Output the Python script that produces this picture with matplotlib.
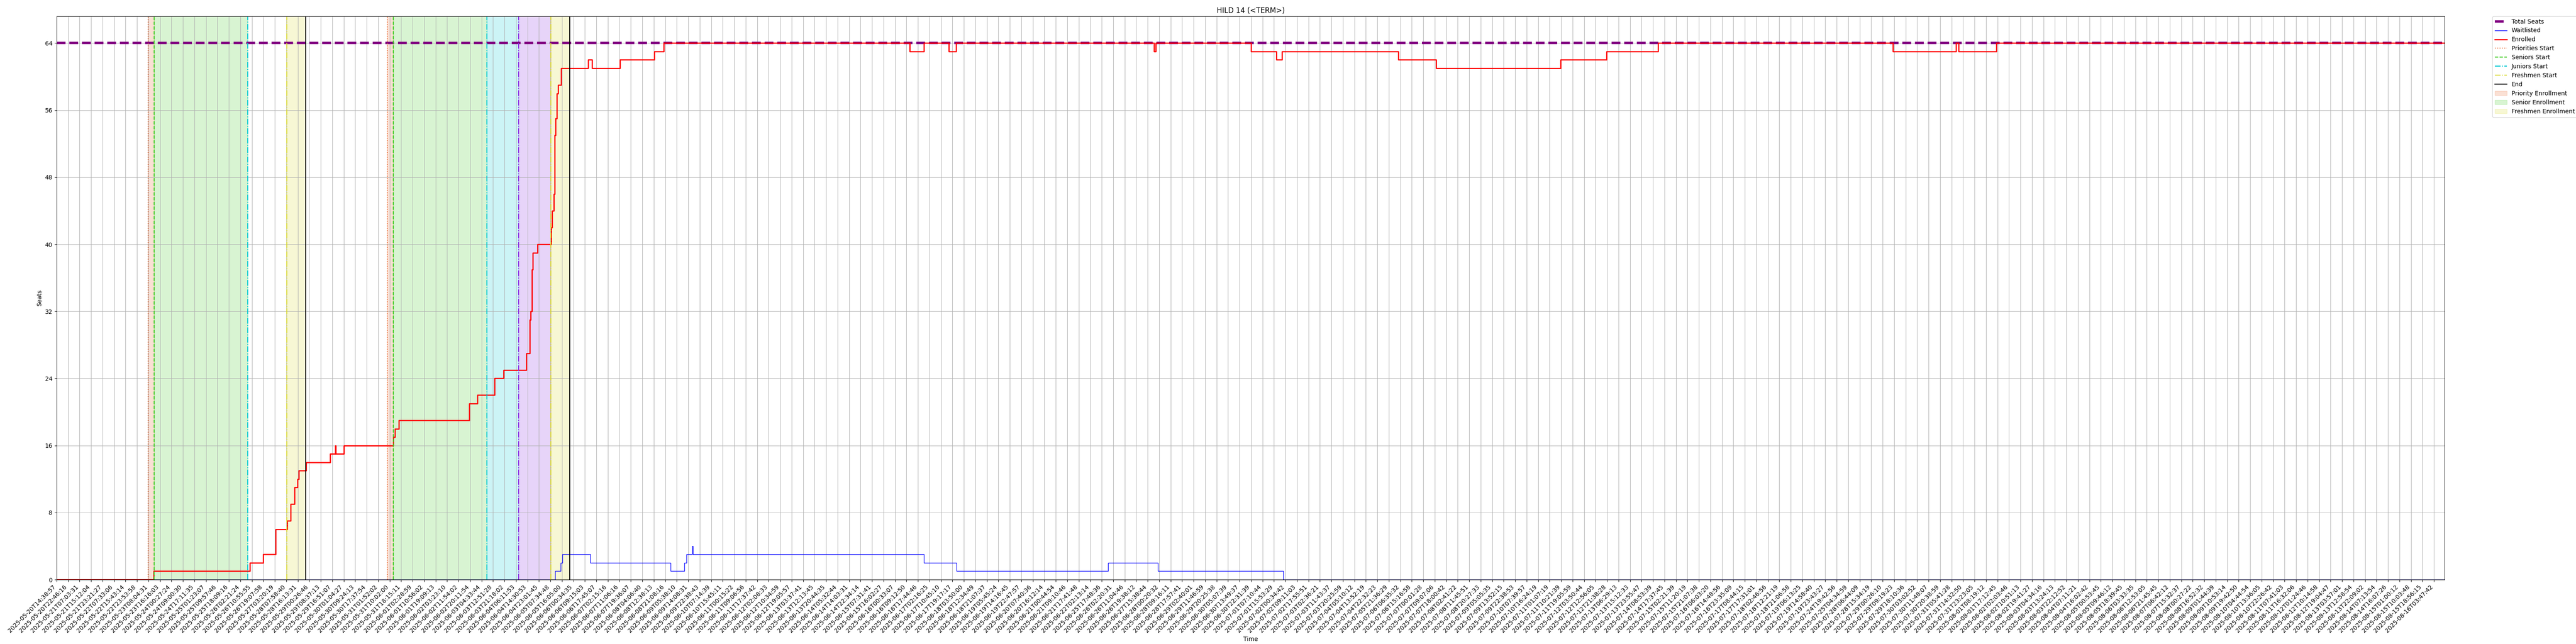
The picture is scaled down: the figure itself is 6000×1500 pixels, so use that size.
#Seat tracker plot for HILD 14
import matplotlib
matplotlib.use('Agg')
import matplotlib.pyplot as plt

#Title of the course
course = 'HILD 14 (<TERM>)'
total_seats = 64

#Sample timestamps shown on the x axis (one label every block of samples)
tick_labels = [
    '2025-05-20T14:38:57', '2025-05-20T22:46:16', '2025-05-21T07:03:31', '2025-05-21T15:12:04',
    '2025-05-21T23:21:27', '2025-05-22T07:33:06', '2025-05-22T15:43:14', '2025-05-22T23:53:58',
    '2025-05-23T08:04:31', '2025-05-23T16:16:03', '2025-05-24T00:27:24', '2025-05-24T09:00:30',
    '2025-05-24T17:11:35', '2025-05-25T01:23:07', '2025-05-25T09:57:46', '2025-05-25T18:09:16',
    '2025-05-26T02:21:24', '2025-05-26T10:55:55', '2025-05-26T19:07:58', '2025-05-27T03:20:19',
    '2025-05-28T07:58:40', '2025-05-28T16:13:31', '2025-05-29T00:26:46', '2025-05-29T08:37:13',
    '2025-05-29T16:51:07', '2025-05-30T01:04:27', '2025-05-30T09:24:13', '2025-05-30T17:37:54',
    '2025-05-31T01:52:02', '2025-05-31T10:02:00', '2025-05-31T18:15:11', '2025-06-01T02:28:59',
    '2025-06-01T10:56:02', '2025-06-01T19:09:13', '2025-06-02T03:23:10', '2025-06-02T11:54:02',
    '2025-06-02T20:11:54', '2025-06-03T04:33:44', '2025-06-03T12:51:28', '2025-06-03T21:18:02',
    '2025-06-04T06:11:53', '2025-06-04T14:30:53', '2025-06-04T23:01:45', '2025-06-05T07:34:48',
    '2025-06-05T16:05:00', '2025-06-06T00:34:35', '2025-06-06T09:15:03', '2025-06-06T17:45:07',
    '2025-06-07T02:15:16', '2025-06-07T11:06:16', '2025-06-07T19:36:07', '2025-06-08T04:06:40',
    '2025-06-08T12:38:13', '2025-06-08T21:08:16', '2025-06-09T05:38:10', '2025-06-09T14:08:31',
    '2025-06-09T22:38:43', '2025-06-10T07:14:39', '2025-06-10T15:45:11', '2025-06-11T00:15:22',
    '2025-06-11T09:06:56', '2025-06-11T17:37:42', '2025-06-12T02:08:33', '2025-06-12T10:34:59',
    '2025-06-12T19:05:57', '2025-06-13T03:37:41', '2025-06-13T12:13:45', '2025-06-13T20:44:35',
    '2025-06-14T05:32:44', '2025-06-14T14:03:31', '2025-06-14T22:34:14', '2025-06-15T07:31:41',
    '2025-06-15T16:02:27', '2025-06-16T00:33:07', '2025-06-16T09:12:50', '2025-06-16T17:44:46',
    '2025-06-17T02:16:25', '2025-06-17T10:45:10', '2025-06-17T19:17:17', '2025-06-18T03:50:00',
    '2025-06-18T12:34:49', '2025-06-18T21:07:37', '2025-06-19T05:45:24', '2025-06-19T14:16:45',
    '2025-06-19T22:47:57', '2025-06-20T07:40:36', '2025-06-20T16:12:14', '2025-06-21T00:44:54',
    '2025-06-21T09:10:46', '2025-06-21T17:41:48', '2025-06-22T02:13:14', '2025-06-25T17:48:36',
    '2025-06-26T02:20:31', '2025-06-26T11:04:46', '2025-06-26T19:38:12', '2025-06-27T15:38:44',
    '2025-06-28T00:20:32', '2025-06-28T09:16:11', '2025-06-28T17:57:41', '2025-06-29T02:40:01',
    '2025-06-29T11:46:59', '2025-06-29T20:25:38', '2025-06-30T05:07:39', '2025-06-30T13:49:37',
    '2025-06-30T22:31:39', '2025-07-01T07:10:44', '2025-07-01T15:53:29', '2025-07-02T00:34:42',
    '2025-07-02T09:11:03', '2025-07-02T17:55:51', '2025-07-03T02:36:21', '2025-07-03T11:43:37',
    '2025-07-03T20:25:59', '2025-07-04T05:10:12', '2025-07-04T13:52:19', '2025-07-04T22:32:23',
    '2025-07-05T21:36:29', '2025-07-06T06:35:32', '2025-07-06T15:16:58', '2025-07-07T00:01:28',
    '2025-07-07T09:07:06', '2025-07-07T18:00:42', '2025-07-08T02:41:22', '2025-07-08T11:45:51',
    '2025-07-08T20:27:33', '2025-07-09T05:05:35', '2025-07-09T13:52:15', '2025-07-09T22:38:53',
    '2025-07-10T07:39:57', '2025-07-10T16:24:19', '2025-07-11T01:07:19', '2025-07-11T10:21:39',
    '2025-07-11T19:05:59', '2025-07-12T03:50:44', '2025-07-12T12:56:05', '2025-07-12T21:38:28',
    '2025-07-13T06:29:13', '2025-07-13T15:12:33', '2025-07-13T23:55:47', '2025-07-14T08:53:39',
    '2025-07-14T17:37:45', '2025-07-15T02:21:39', '2025-07-15T11:20:19', '2025-07-15T21:07:38',
    '2025-07-16T06:03:20', '2025-07-16T14:48:56', '2025-07-16T23:35:09', '2025-07-17T08:44:15',
    '2025-07-17T17:31:01', '2025-07-18T02:46:56', '2025-07-18T12:21:19', '2025-07-18T21:06:58',
    '2025-07-19T06:13:25', '2025-07-19T14:58:40', '2025-07-19T23:43:27', '2025-07-24T19:42:56',
    '2025-07-25T04:34:59', '2025-07-28T06:44:09', '2025-07-28T15:34:19', '2025-07-29T00:26:10',
    '2025-07-29T09:19:23', '2025-07-29T18:10:36', '2025-07-30T03:02:52', '2025-07-30T11:48:07',
    '2025-07-30T20:38:59', '2025-07-31T05:41:28', '2025-07-31T14:32:50', '2025-07-31T23:23:05',
    '2025-08-01T08:19:12', '2025-08-01T17:12:45', '2025-08-02T02:03:46', '2025-08-02T10:51:13',
    '2025-08-02T19:41:27', '2025-08-03T04:34:16', '2025-08-03T13:24:13', '2025-08-03T22:12:52',
    '2025-08-04T07:11:21', '2025-08-04T16:02:42', '2025-08-05T00:53:45', '2025-08-05T09:46:12',
    '2025-08-05T18:39:45', '2025-08-06T03:33:35', '2025-08-06T12:53:05', '2025-08-06T21:45:45',
    '2025-08-07T06:42:12', '2025-08-07T15:32:37', '2025-08-08T00:27:22', '2025-08-08T16:52:32',
    '2025-08-09T01:44:39', '2025-08-09T10:53:14', '2025-08-09T19:42:50', '2025-08-10T04:44:54',
    '2025-08-10T13:36:05', '2025-08-10T22:26:42', '2025-08-11T07:41:03', '2025-08-11T16:32:06',
    '2025-08-12T01:24:46', '2025-08-12T10:14:58', '2025-08-12T19:04:47', '2025-08-13T03:57:01',
    '2025-08-13T12:58:54', '2025-08-13T22:09:02', '2025-08-14T07:13:54', '2025-08-14T16:07:26',
    '2025-08-15T01:00:12', '2025-08-15T10:03:48', '2025-08-15T18:56:15', '2025-08-16T03:47:42',
]

#Position of the last sample (in tick blocks)
last_sample = 207.93

#Enrolled count: sample position where it changed, and new value
enrolled_x = [0, 8.45, 16.82, 17.97, 19.06, 20.06, 20.38, 20.70, 20.96, 21.08,
              21.72, 23.80, 24.26, 24.31, 25.00, 29.30, 29.44, 29.81, 35.91, 36.64,
              38.15, 38.91, 40.90, 41.20, 41.29, 41.40, 41.47, 41.87, 43.05, 43.15,
              43.30, 43.37, 43.45, 43.55, 43.65, 43.93, 46.27, 46.62, 49.03, 52.04,
              52.85, 74.30, 75.50, 77.68, 78.33, 95.55, 95.70, 104.00, 106.22, 106.71,
              116.83, 120.12, 130.95, 134.95, 139.45, 159.90, 165.40, 165.60, 168.90]
enrolled_y = [0, 1, 2, 3, 6, 7, 9, 11, 12, 13,
              14, 15, 16, 15, 16, 17, 18, 19, 21, 22,
              24, 25, 27, 31, 32, 37, 39, 40, 42, 44,
              46, 53, 55, 58, 59, 61, 62, 61, 62, 63,
              64, 63, 64, 63, 64, 63, 64, 63, 62, 63,
              62, 61, 62, 63, 64, 63, 64, 63, 64]

#Waitlist count
waitlist_x = [0, 43.40, 43.90, 44.02, 46.47, 53.46, 54.65, 54.85, 55.31, 55.40,
              75.50, 78.35, 91.55, 95.90, 106.80]
waitlist_y = [0, 1, 2, 3, 2, 1, 2, 3, 4, 3,
              2, 1, 2, 1, 0]

#Enrollment pass start times, two rounds (None = no pass that round)
priorities_start = [7.95, 28.79]
seniors_start = [8.47, 29.30]
juniors_start = [16.64, 37.47]
sophomores_start = [None, 40.24]
freshmen_start = [20.04, 43.04]
end_time = [21.70, 44.67]

#Colors
c_prio = '#e8642c'
c_sen = '#3ccc1e'
c_jun = '#00c8d2'
c_soph = '#8a2be2'
c_fresh = '#d8d82a'

fig = plt.figure(figsize=(60, 15), dpi=100)
ax = plt.gca()

#Carry the last value to the end of the data
ex = enrolled_x + [last_sample]
ey = enrolled_y + [enrolled_y[-1]]
wx = waitlist_x + [last_sample]
wy = waitlist_y + [waitlist_y[-1]]

#Lines
plt.plot([0, last_sample], [total_seats, total_seats], color='purple', linestyle='--', linewidth=4, label='Total Seats')
plt.plot(wx, wy, color='blue', linewidth=1, drawstyle='steps-post', label='Waitlisted')
plt.plot(ex, ey, color='red', linewidth=2, drawstyle='steps-post', label='Enrolled')

#Pass markers and shaded windows
for i in range(len(end_time)):
    first = (i == 0)
    plt.axvline(priorities_start[i], color=c_prio, linestyle=':', linewidth=1.5, label='Priorities Start' if first else None)
    plt.axvline(seniors_start[i], color=c_sen, linestyle='--', linewidth=1.5, label='Seniors Start' if first else None)
    plt.axvline(juniors_start[i], color=c_jun, linestyle='-.', linewidth=1.5, label='Juniors Start' if first else None)
    if sophomores_start[i] is not None:
        plt.axvline(sophomores_start[i], color=c_soph, linestyle='-.', linewidth=1.5)
    plt.axvline(freshmen_start[i], color=c_fresh, linestyle='-.', linewidth=1.5, label='Freshmen Start' if first else None)
    plt.axvline(end_time[i], color='black', linestyle='-', linewidth=1.5, label='End' if first else None)

    plt.axvspan(priorities_start[i], seniors_start[i], color=c_prio, alpha=0.2, label='Priority Enrollment' if first else None)
    plt.axvspan(seniors_start[i], juniors_start[i], color=c_sen, alpha=0.2, label='Senior Enrollment' if first else None)
    if sophomores_start[i] is not None:
        plt.axvspan(juniors_start[i], sophomores_start[i], color=c_jun, alpha=0.2)
        plt.axvspan(sophomores_start[i], freshmen_start[i], color=c_soph, alpha=0.2)
    plt.axvspan(freshmen_start[i], end_time[i], color=c_fresh, alpha=0.2, label='Freshmen Enrollment' if first else None)

#Axes
plt.xticks(range(len(tick_labels)), tick_labels, rotation=45, ha='right')
plt.yticks(range(0, total_seats + 1, 8))
plt.xlim(0, last_sample)
plt.ylim(0, total_seats * 1.05)
plt.xlabel('Time')
plt.ylabel('Seats')
plt.title(course)
plt.grid(True)
plt.legend(bbox_to_anchor=(1.02, 1), loc='upper left', borderaxespad=0)

plt.subplots_adjust(left=0.022, right=0.949, bottom=0.1, top=0.9747)
plt.savefig('out.png', dpi=100)
